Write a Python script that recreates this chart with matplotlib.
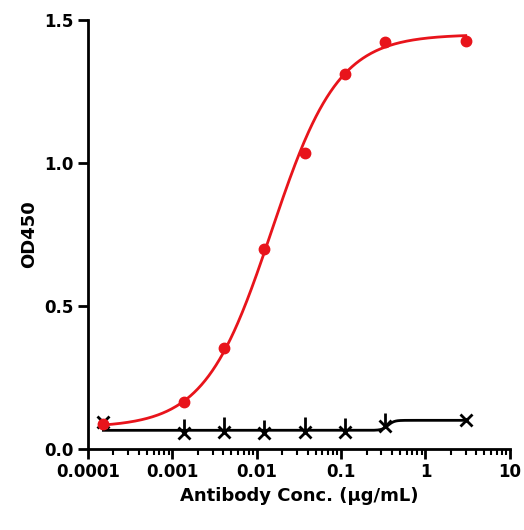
import numpy as np
import matplotlib
matplotlib.use("Agg")
import matplotlib.pyplot as plt

conc = [0.000152, 0.00137, 0.00412, 0.0123, 0.037, 0.111, 0.333, 3.0]
red_y = [0.087, 0.164, 0.353, 0.699, 1.035, 1.311, 1.423, 1.427]
blk_y = [0.095, 0.055, 0.060, 0.055, 0.060, 0.058, 0.080, 0.100]
blk_err = [0.008, 0.050, 0.050, 0.045, 0.050, 0.050, 0.045, 0.008]

def fpl(x, bottom, top, ec50, hill):
    return bottom + (top - bottom) / (1 + (ec50 / x) ** hill)

fig = plt.figure(figsize=(5.24, 5.30), dpi=100)
ax = fig.add_axes([0.168, 0.153, 0.805, 0.809])
xs = np.logspace(np.log10(conc[0]), np.log10(conc[-1]), 400)
ax.plot(xs, fpl(xs, 0.075, 1.45, 0.015, 1.1), color='#e8141b', lw=2, zorder=2)
ax.plot(xs, fpl(xs, 0.065, 0.1, 0.36, 12), color='black', lw=2, zorder=2)
ax.errorbar(conc, blk_y, yerr=[[0]*len(conc), blk_err], fmt='x', color='black',
            ms=8, mew=2, elinewidth=2, capsize=0, zorder=3)
ax.plot(conc, red_y, 'o', color='#e8141b', ms=7.5, zorder=4)

ax.set_xscale('log')
ax.set_xlim(0.0001, 10)
ax.set_ylim(0, 1.5)
ax.set_yticks([0, 0.5, 1.0, 1.5])
ax.set_yticklabels(['0.0', '0.5', '1.0', '1.5'])
ax.set_xticks([0.0001, 0.001, 0.01, 0.1, 1, 10])
ax.set_xticklabels(['0.0001', '0.001', '0.01', '0.1', '1', '10'])
for s in ['top', 'right']:
    ax.spines[s].set_visible(False)
for s in ['left', 'bottom']:
    ax.spines[s].set_linewidth(2)
ax.tick_params(which='major', width=2, length=7, labelsize=12)
ax.tick_params(which='minor', width=1.5, length=4)
for l in ax.get_xticklabels() + ax.get_yticklabels():
    l.set_fontweight('bold')
ax.set_xlabel('Antibody Conc. (μg/mL)', fontsize=13, fontweight='bold')
ax.set_ylabel('OD450', fontsize=13, fontweight='bold')
fig.savefig('out.png', dpi=100)
